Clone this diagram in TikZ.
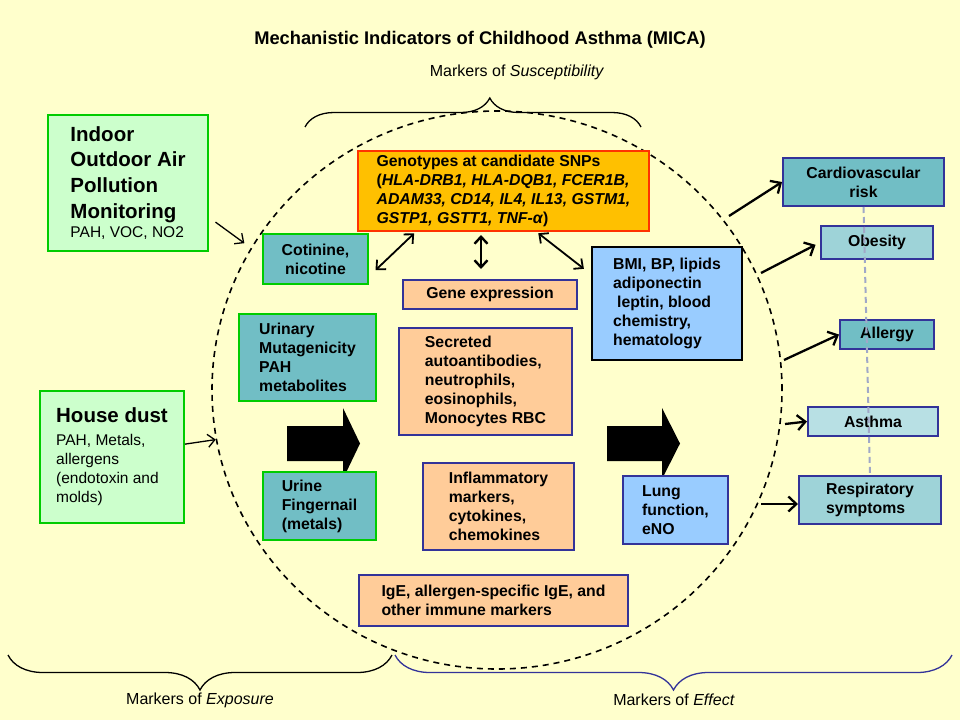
\documentclass[tikz,border=0pt]{standalone}
\usepackage{fontspec}
\setmainfont{Liberation Sans}
\usetikzlibrary{shapes.geometric, arrows.meta, decorations.pathreplacing}

\definecolor{paper}{RGB}{255,255,204}
\definecolor{srcfill}{RGB}{204,255,204}
\definecolor{srcline}{RGB}{0,204,0}
\definecolor{tealA}{RGB}{113,190,197}
\definecolor{tealB}{RGB}{158,211,216}
\definecolor{tealC}{RGB}{184,224,228}
\definecolor{genofill}{RGB}{255,192,0}
\definecolor{genoline}{RGB}{255,51,0}
\definecolor{peach}{RGB}{255,204,153}
\definecolor{navy}{RGB}{51,51,153}
\definecolor{sky}{RGB}{153,204,255}
\definecolor{guide}{RGB}{160,168,200}

\newcommand{\boxfont}{\fontsize{15.8}{19}\selectfont\bfseries}
\newcommand{\bigfont}{\fontsize{20.5}{25.7}\selectfont\bfseries}
\newcommand{\smallfont}{\fontsize{15.5}{19}\selectfont\mdseries}
\newcommand{\labelfont}{\fontsize{16}{19}\selectfont}

\tikzstyle{src} = [rectangle, 
draw=srcline, 
line width=2pt, 
fill=srcfill, 
align=left, 
inner sep=0pt]
\tikzstyle{expo} = [rectangle, 
draw=srcline, 
line width=2pt, 
fill=tealA, 
align=left, 
font=\boxfont, 
inner sep=0pt]
\tikzstyle{geno} = [rectangle, 
draw=genoline, 
line width=2pt, 
fill=genofill, 
align=left, 
font=\boxfont, 
inner sep=0pt]
\tikzstyle{bio} = [rectangle, 
draw=navy, 
line width=2pt, 
fill=peach, 
align=left, 
font=\boxfont, 
inner sep=0pt]
\tikzstyle{eff} = [rectangle, 
draw=navy, 
line width=2pt, 
fill=sky, 
align=left, 
font=\boxfont, 
inner sep=0pt]
\tikzstyle{outcome} = [rectangle, 
draw=navy, 
line width=2pt, 
align=center, 
font=\boxfont, 
inner sep=0pt]
\tikzstyle{thinarr} = [-{Straight Barb[length=7pt,width=13pt]}, line width=1.3pt]
\tikzstyle{thickarr} = [-{Straight Barb[length=8pt,width=15pt]}, line width=2.3pt]
\tikzstyle{dblarr} = [{Straight Barb[length=7pt,width=13pt]}-{Straight Barb[length=7pt,width=13pt]}, line width=1.8pt]
\tikzstyle{curly} = [decorate, line width=1.3pt]

\begin{document}
\begin{tikzpicture}[x=1pt, y=-1pt]

\fill[paper] (0,0) rectangle (960,720);
\useasboundingbox (0,0) rectangle (960,720);

\node (title) at (480,40) {\fontsize{18.3}{21}\selectfont\bfseries Mechanistic Indicators of Childhood Asthma (MICA)};
\node (susc) at (517,72) [font=\labelfont] {Markers of \textit{Susceptibility}};

% dashed ring
\node (ring) [ellipse, draw, line width=1.6pt, dash pattern=on 6pt off 5pt, minimum width=570, minimum height=558, inner sep=0pt] at (497,390) {};

% braces
\draw[curly, decoration={brace, amplitude=29pt, aspect=0.55}] (305,127) -- (641,127);
\draw[curly, decoration={brace, amplitude=35pt, aspect=0.5}] (392,655) -- (8,655);
\draw[curly, navy, decoration={brace, amplitude=35pt, aspect=0.5}] (952,655) -- (395,655);
\node (explabel) at (200,700) [font=\labelfont] {Markers of \textit{Exposure}};
\node (efflabel) at (674,700) [font=\labelfont] {Markers of \textit{Effect}};

% block arrows
\fill (287,426) -- (343,426) -- (343,408) -- (360,443.5) -- (343,479) -- (343,461) -- (287,461) -- cycle;
\fill (607,426) -- (662,426) -- (662,408) -- (680,443.5) -- (662,479) -- (662,461) -- (607,461) -- cycle;

% exposure sources
\node (indoor) [src, font=\bigfont, minimum width=160, minimum height=136] at (128,183) {Indoor\\Outdoor Air\\Pollution\\Monitoring\\[-6pt]{\smallfont PAH, VOC, NO2}};
\node (dust) [src, font=\smallfont, minimum width=144, minimum height=132] at (112,457) {{\bigfont House dust}\\[4pt]PAH, Metals,\\allergens\\(endotoxin and\\molds)};

% markers of exposure
\node (cotinine) [expo, align=center, minimum width=105, minimum height=50] at (315.5,259) {Cotinine,\\nicotine};
\node (urinary) [expo, minimum width=137, minimum height=87] at (307.5,357.5) {Urinary\\Mutagenicity\\PAH\\metabolites};
\node (urine) [expo, minimum width=113, minimum height=68] at (319.5,506) {Urine\\Fingernail\\(metals)};

% susceptibility and biomarkers
\node (genotype) [geno, minimum width=291, minimum height=80] at (503.5,191) {Genotypes at candidate SNPs\\(\textit{HLA-DRB1, HLA-DQB1, FCER1B,}\\\textit{ADAM33, CD14, IL4, IL13, GSTM1,}\\\textit{GSTP1, GSTT1, TNF-α})};
\node (geneexp) [bio, align=center, minimum width=174, minimum height=29] at (490,294.5) {Gene expression};
\node (secreted) [bio, minimum width=173, minimum height=107] at (485.5,381.5) {Secreted\\autoantibodies,\\neutrophils,\\eosinophils,\\Monocytes RBC};
\node (inflam) [bio, minimum width=151, minimum height=87] at (498.5,506.5) {Inflammatory\\markers,\\cytokines,\\chemokines};
\node (ige) [bio, minimum width=269, minimum height=51] at (493.5,600.5) {IgE, allergen-specific IgE, and\\other immune markers};

% markers of effect
\node (bmi) [eff, draw=black, minimum width=150, minimum height=113] at (667,303.5) {BMI, BP, lipids\\adiponectin\\\hspace*{4pt}leptin, blood\\chemistry,\\hematology};
\node (lung) [eff, minimum width=105, minimum height=68] at (675.5,510) {Lung\\function,\\eNO};

% outcomes
\node (cardio) [outcome, fill=tealA, minimum width=161, minimum height=48] at (863.5,182) {Cardiovascular\\risk};
\node (obesity) [outcome, fill=tealB, minimum width=112, minimum height=33] at (877,242.5) {Obesity};
\node (allergy) [outcome, fill=tealA, minimum width=94, minimum height=29] at (887,334.5) {Allergy};
\node (asthma) [outcome, fill=tealC, minimum width=130, minimum height=29] at (873,421.5) {Asthma};
\node (resp) [outcome, fill=tealB, align=left, minimum width=142, minimum height=48] at (870,500) {Respiratory\\symptoms};

% connectors
\draw[thinarr, shorten <=8pt, shorten >=8pt] (indoor.-23) -- (ring.150);
\draw[thinarr] (dust.10) -- (ring.190);

\draw[dblarr, shorten <=9pt, shorten >=2pt] (cotinine.-18) -- (genotype.205);
\coordinate (gx) at ([xshift=-9pt]geneexp.north);
\draw[dblarr, line width=2.4pt, shorten <=10pt, shorten >=3pt] (gx) -- (gx |- genotype.south);
\draw[dblarr, shorten <=2pt, shorten >=9pt] (genotype.-51) -- (bmi.159);

\coordinate (s1) at (729,216);
\coordinate (s2) at (761,273);
\coordinate (s3) at (784,360);
\coordinate (s4) at (785,424);
\coordinate (s5) at (761,504);
\draw[thickarr] (s1) -- (cardio.west);
\draw[thickarr, shorten >=5pt] (s2) -- (obesity.west);
\draw[thickarr] (s3) -- (allergy.west);
\draw[thickarr] (s4) -- (asthma.west);
\draw[thickarr] (s5) -- (s5 -| resp.west);

\draw[guide, line width=2pt, dash pattern=on 6pt off 4pt] (cardio.south) -- (resp.north);

\end{tikzpicture}
\end{document}
